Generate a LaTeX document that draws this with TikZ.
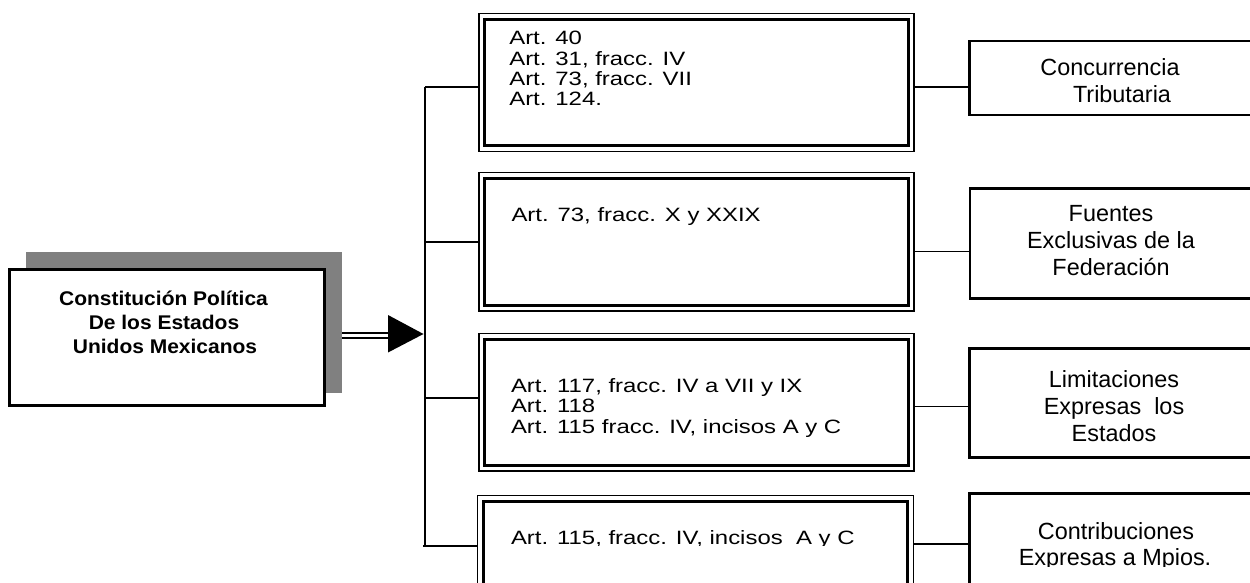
\documentclass[tikz,border=0pt]{standalone}
\usepackage{fontspec}
\setmainfont{Liberation Sans}
\newfontfamily\midfont{Liberation Sans}[FakeStretch=1.24]
\newfontfamily\cpfont{Liberation Sans Bold}[FakeStretch=1.06]
\begin{document}
\begin{tikzpicture}[x=1pt,y=-1pt,
  midtext/.style={anchor=base west,inner sep=0pt,outer sep=0pt,font=\midfont\fontsize{19.3}{20}\selectfont},
  cptext/.style={anchor=base,inner sep=0pt,outer sep=0pt,font=\cpfont\fontsize{19.8}{24}\selectfont},
  rtext/.style={anchor=base,inner sep=0pt,outer sep=0pt,font=\fontsize{23.4}{27}\selectfont},
  midbox/.style={draw,line width=1.5pt,inner sep=0pt,outer sep=0pt,minimum width=435pt},
  rbox/.style={draw,line width=2.6pt,inner sep=0pt,outer sep=0pt,minimum width=286.5pt},
  conn/.style={line width=1.4pt},
  inner/.style={line width=3pt}]
\useasboundingbox (0,0) rectangle (1250,583);
\clip (0,0) rectangle (1250,583);
\fill[white] (0,0) rectangle (1250,583);
% main box with shadow
\fill[black!50] (26,252) rectangle (342,393);
\node[draw,line width=3pt,fill=white,inner sep=0pt,outer sep=0pt,minimum width=315.7pt,minimum height=135.8pt] (cp) at (166.85,337.4) {};
\node[cptext] (cp1) at (163.5,305) {Constitución Política};
\node[cptext] (cp2) at (164,329.3) {De los Estados};
\node[cptext] (cp3) at (165,353.3) {Unidos Mexicanos};
% double arrow
\coordinate (as) at (342,335.5);
\coordinate (ab) at (389,335.5);
\coordinate (at) at (423.5,334);
\draw[line width=1.8pt,double=white,double distance=2.6pt] (as) -- (ab);
\fill (388,315) -- (at) -- (388,352.5) -- cycle;
% middle boxes
\node[midbox,minimum height=138pt] (m1) at (696.3,82.7) {};
\node[midbox,minimum height=138.5pt] (m2) at (696.3,241.95) {};
\node[midbox,minimum height=137.7pt] (m3) at (696.3,402.15) {};
\node[midbox,minimum height=160pt,minimum width=435.8pt] (m4) at (695.4,575.5) {};
\foreach \b in {m1,m2,m3,m4}
  \draw[inner] ([shift={(5.8,5.8)}]\b.north west) rectangle ([shift={(-5.8,-5.8)}]\b.south east);
% middle texts
\node[midtext] (t1a) at (509.3,45) {Art. 40};
\node[midtext] (t1b) at (509.3,65.2) {Art. 31, fracc. IV};
\node[midtext] (t1c) at (509.3,85.4) {Art. 73, fracc. VII};
\node[midtext] (t1d) at (509.3,105.5) {Art. 124.};
\node[midtext] (t2a) at (511.5,221.7) {Art. 73, fracc. X y XXIX};
\node[midtext] (t3a) at (511,392.5) {Art. 117, fracc. IV a VII y IX};
\node[midtext] (t3b) at (511,412.7) {Art. 118};
\begin{scope}
  \clip (480,400) rectangle (900,436);
  \node[midtext] (t3c) at (511,433) {Art. 115 fracc. IV, incisos A y C};
\end{scope}
\begin{scope}
  \clip (480,500) rectangle (900,545.3);
  \node[midtext] (t4a) at (511,544) {Art. 115, fracc. IV, incisos\ \ A y C};
\end{scope}
% bus and branches
\coordinate (bt) at (425,87);
\coordinate (b2) at (425,242);
\coordinate (b3) at (425,398);
\coordinate (b4) at (425,546);
\draw[conn] (bt) -- (b4);
\draw[conn] (bt) -- (bt -| m1.west);
\draw[conn] (b2) -- (b2 -| m2.west);
\draw[conn] (b3) -- (b3 -| m3.west);
\draw[conn] ([xshift=-2pt]b4) -- (b4 -| m4.west);
% right boxes
\node[rbox,minimum height=74pt] (r1) at (1112.75,78.2) {};
\node[rbox,minimum height=110pt] (r2) at (1113.1,243.5) {};
\node[rbox,minimum height=108.8pt] (r3) at (1112.6,402.9) {};
\node[rbox,minimum height=160pt] (r4) at (1112.6,573.5) {};
% right connectors
\coordinate (k1) at (913.8,87);
\coordinate (k2) at (913.8,251.7);
\coordinate (k3) at (913.8,406.7);
\coordinate (k4) at (913.3,544);
\draw[conn] (k1) -- (k1 -| r1.west);
\draw[conn] (k2) -- (k2 -| r2.west);
\draw[conn] (k3) -- (k3 -| r3.west);
\draw[conn] (k4) -- (k4 -| r4.west);
% right texts
\node[rtext] (r1a) at (1110,76) {Concurrencia};
\node[rtext] (r1b) at (1122,102.5) {Tributaria};
\node[rtext] (r2a) at (1111,221) {Fuentes};
\node[rtext] (r2b) at (1111,248) {Exclusivas de la};
\node[rtext] (r2c) at (1111,275.5) {Federación};
\node[rtext] (r3a) at (1114,387) {Limitaciones};
\node[rtext] (r3b) at (1114,414) {Expresas\ \ los};
\node[rtext] (r3c) at (1114,441.5) {Estados};
\node[rtext] (r4a) at (1116,539) {Contribuciones};
\begin{scope}
  \clip (975,545) rectangle (1250,566.5);
  \node[rtext] (r4b) at (1115,565) {Expresas a Mpios.};
\end{scope}
\end{tikzpicture}
\end{document}
